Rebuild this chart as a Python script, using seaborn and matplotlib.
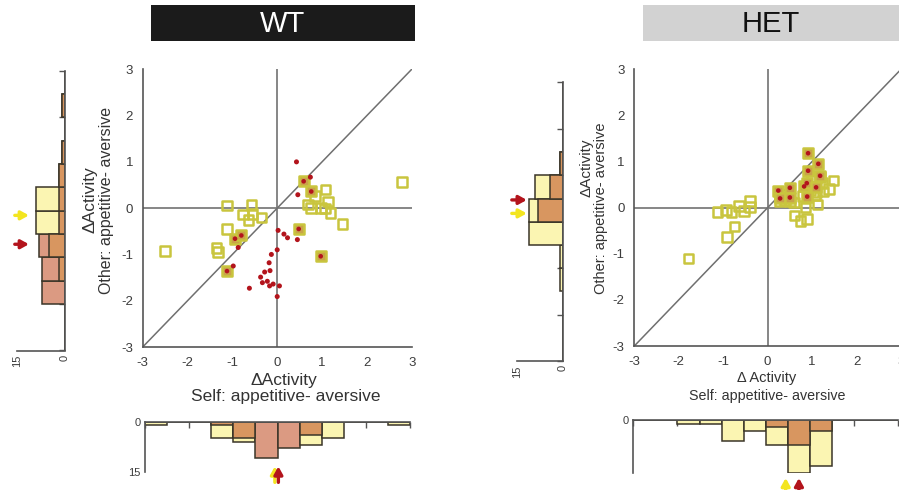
import numpy as np
import pandas as pd
import matplotlib
matplotlib.use("Agg")
import matplotlib.pyplot as plt
from matplotlib.patches import Rectangle
import seaborn as sns

sns.set_style("white")
plt.rcParams['font.family'] = ['Liberation Sans', 'DejaVu Sans']
plt.rcParams['axes.unicode_minus'] = False

# ---------------- data ----------------
# WT scatter
wt_sq_x = [2.79, -2.5, -1.12, -0.57, -0.76, -0.55, -0.64, -0.35, -1.12, -1.35, -1.32,
           0.84, 1.08, 0.69, 0.76, 1.13, 0.98, 1.06, 1.19, 1.46]
wt_sq_y = [0.56, -0.93, 0.06, 0.07, -0.14, -0.13, -0.26, -0.2, -0.45, -0.86, -0.95,
           0.26, 0.40, 0.08, 0.0, 0.14, 0.0, -0.01, -0.1, -0.34]
wt_both_x = [0.59, 0.76, -0.94, -0.80, -1.12, 0.48, 0.97]
wt_both_y = [0.58, 0.36, -0.66, -0.59, -1.36, -0.45, -1.04]
wt_dot_x = [0.43, 0.74, 0.46, 0.02, 0.15, 0.23, 0.45, -0.87, -0.98, 0.0, -0.13, -0.18,
            -0.16, -0.28, -0.37, -0.33, -0.22, -0.17, -0.09, 0.05, -0.62, 0.0]
wt_dot_y = [1.0, 0.67, 0.29, -0.48, -0.56, -0.64, -0.68, -0.85, -1.25, -0.9, -1.0, -1.18,
            -1.35, -1.38, -1.49, -1.61, -1.58, -1.68, -1.64, -1.68, -1.73, -1.91]

# HET scatter
het_sq_x = [-1.78, -1.13, -0.94, -0.81, -0.64, -0.53, -0.40, -0.40, -0.75, -0.92,
            0.60, 0.74, 0.89, 0.85, 1.12, 0.59, 1.48, 1.38, 1.23, 1.10, 0.99, 1.18,
            0.80, 1.25, 0.95, 0.39, 0.28, 0.50, 1.06]
het_sq_y = [-1.10, -0.09, -0.05, -0.09, 0.04, -0.07, 0.15, 0.01, -0.41, -0.64,
            -0.17, -0.29, -0.25, 0.0, 0.07, 0.11, 0.59, 0.40, 0.53, 0.33, 0.67, 0.66,
            0.25, 0.35, 0.38, 0.17, 0.13, 0.13, 0.27]
het_both_x = [0.91, 1.14, 0.91, 1.18, 0.24, 0.50, 0.28, 0.50, 0.82, 0.88, 0.89, 1.09]
het_both_y = [1.18, 0.95, 0.80, 0.69, 0.37, 0.43, 0.20, 0.22, 0.46, 0.53, 0.24, 0.44]

# histograms (bins of 0.5 from -3 to 3)
bin_edges = [-3.0, -2.5, -2.0, -1.5, -1.0, -0.5, 0.0, 0.5, 1.0, 1.5, 2.0, 2.5, 3.0]
wt_self_yellow = [1, 0, 0, 5, 6, 0, 0, 7, 5, 0, 0, 1]
wt_self_red = [0, 0, 0, 1, 5, 11, 8, 4, 0, 0, 0, 0]
wt_other_yellow = [0, 0, 0, 2, 5, 9, 9, 2, 1, 0, 1, 0]
wt_other_red = [0, 0, 7, 7, 8, 2, 2, 2, 1, 0, 1, 0]
het_self_yellow = [0, 0, 1, 1, 6, 3, 7, 15, 13, 0, 0, 0]
het_self_red = [0, 0, 0, 0, 0, 0, 2, 7, 3, 0, 0, 0]
het_other_yellow = [0, 0, 0, 1, 1, 11, 11, 9, 1, 0, 0, 0]
het_other_red = [0, 0, 0, 0, 0, 0, 8, 4, 1, 0, 0, 0]

# means (arrows)
wt_self_mean_yellow, wt_self_mean_red = -0.06, 0.02
wt_other_mean_yellow, wt_other_mean_red = -0.10, -0.72
het_self_mean_yellow, het_self_mean_red = 0.45, 0.75
het_other_mean_yellow, het_other_mean_red = 0.18, 0.47

ticks = [-3, -2, -1, 0, 1, 2, 3]

# ---------------- style ----------------
SQ_EDGE = "#C9C53E"
BOTH_FACE = "#C9A34A"
DOT = "#B3141C"
YEL = "#FBF5B2"
BROWN = "#D89660"
PINK = "#DB9A82"
HEDGE = "#3A3528"
ARROW_Y = "#F3E520"
ARROW_R = "#B3141C"
AXC = "#555555"
TXT = "#333333"

W, H = 899, 490
fig = plt.figure(figsize=(W / 100, H / 100), dpi=100)


def box(x0, x1, ytop, ybot):
    return [x0 / W, 1 - ybot / H, (x1 - x0) / W, (ybot - ytop) / H]


def main_panel(rect, sq_x, sq_y, both_x, both_y, dot_x, dot_y):
    ax = fig.add_axes(rect)
    ax.set_xlim(-3, 3)
    ax.set_ylim(-3, 3)
    ax.axhline(0, color="#7d7d7d", lw=1.3, zorder=1)
    ax.axvline(0, color="#7d7d7d", lw=1.3, zorder=1)
    ax.plot([-3, 3], [-3, 3], color="#6f6f6f", lw=1.1, zorder=1)
    sq = pd.DataFrame({"x": sq_x, "y": sq_y})
    sns.scatterplot(data=sq, x="x", y="y", ax=ax, marker="s", s=48,
                    facecolor="none", edgecolor=SQ_EDGE, linewidth=1.8, zorder=3)
    bo = pd.DataFrame({"x": both_x, "y": both_y})
    sns.scatterplot(data=bo, x="x", y="y", ax=ax, marker="s", s=48,
                    color=BOTH_FACE, edgecolor=SQ_EDGE, linewidth=1.8, zorder=4)
    sns.scatterplot(data=bo, x="x", y="y", ax=ax, marker="o", s=11,
                    color=DOT, edgecolor="none", linewidth=0, zorder=5)
    if dot_x:
        do = pd.DataFrame({"x": dot_x, "y": dot_y})
        sns.scatterplot(data=do, x="x", y="y", ax=ax, marker="o", s=13,
                        color=DOT, edgecolor="none", linewidth=0, zorder=5)
    ax.set_xticks(ticks)
    ax.set_yticks(ticks)
    ax.set_xlabel("")
    ax.set_ylabel("")
    for s in ["top", "right"]:
        ax.spines[s].set_visible(False)
    for s in ["left", "bottom"]:
        ax.spines[s].set_color(AXC)
        ax.spines[s].set_linewidth(1.2)
    ax.tick_params(direction="in", length=4, width=1, colors=AXC,
                   labelcolor="#3c3c3c", labelsize=9.5, pad=7)
    return ax


def stacked_parts(yel, red):
    big = [max(a, b) for a, b in zip(yel, red)]
    small = [min(a, b) for a, b in zip(yel, red)]
    cols = [YEL if a >= b else PINK for a, b in zip(yel, red)]
    return big, small, cols


def side_hist(rect, yel, red):
    ax = fig.add_axes(rect)
    big, small, cols = stacked_parts(yel, red)
    lo = bin_edges[:-1]
    ax.barh(lo, big, height=0.5, align="edge", color=cols, edgecolor=HEDGE, linewidth=1.1)
    ax.barh(lo, small, height=0.5, align="edge", color=BROWN, edgecolor=HEDGE, linewidth=1.1)
    ax.set_xlim(15, 0)
    ax.set_ylim(-3, 3)
    for s in ["top", "left"]:
        ax.spines[s].set_visible(False)
    for s in ["right", "bottom"]:
        ax.spines[s].set_color(AXC)
        ax.spines[s].set_linewidth(1.2)
    ax.yaxis.tick_right()
    ax.set_yticks(ticks)
    ax.set_yticklabels([])
    ax.set_xticks([15, 10, 5, 0])
    ax.set_xticklabels(["15", "", "", "0"], rotation=90)
    ax.tick_params(direction="in", length=4, width=1, colors=AXC,
                   labelcolor="#3c3c3c", labelsize=8, pad=3)
    return ax


def bottom_hist(rect, yel, red, show15=True):
    ax = fig.add_axes(rect)
    big, small, cols = stacked_parts(yel, red)
    lo = bin_edges[:-1]
    ax.bar(lo, big, width=0.5, align="edge", color=cols, edgecolor=HEDGE, linewidth=1.1)
    ax.bar(lo, small, width=0.5, align="edge", color=BROWN, edgecolor=HEDGE, linewidth=1.1)
    ax.set_xlim(-3, 3)
    ax.set_ylim(15, 0)
    for s in ["bottom", "right"]:
        ax.spines[s].set_visible(False)
    for s in ["top", "left"]:
        ax.spines[s].set_color(AXC)
        ax.spines[s].set_linewidth(1.2)
    ax.xaxis.tick_top()
    ax.set_xticks(ticks)
    ax.set_xticklabels([])
    ax.set_yticks([0, 5, 10, 15])
    ax.set_yticklabels(["0", "", "", "15" if show15 else ""])
    ax.tick_params(direction="in", length=4, width=1, colors=AXC,
                   labelcolor="#3c3c3c", labelsize=8, pad=3)
    return ax


def arrow(ax, xy, xytext, color):
    ax.annotate("", xy=xy, xytext=xytext, xycoords="data", textcoords="data",
                annotation_clip=False,
                arrowprops=dict(arrowstyle="-|>,head_length=0.45,head_width=0.25",
                                color=color, lw=2.4, shrinkA=0, shrinkB=0))


# ---------------- WT ----------------
main_panel(box(142.7, 411.7, 69.3, 347), wt_sq_x, wt_sq_y, wt_both_x, wt_both_y, wt_dot_x, wt_dot_y)
axl = side_hist(box(16.7, 65, 70.9, 350.5), wt_other_yellow, wt_other_red)
arrow(axl, (11.2, wt_other_mean_yellow), (15.6, wt_other_mean_yellow), ARROW_Y)
arrow(axl, (11.2, wt_other_mean_red), (15.6, wt_other_mean_red), ARROW_R)
axb = bottom_hist(box(145, 410, 421.7, 471.7), wt_self_yellow, wt_self_red)
arrow(axb, (wt_self_mean_yellow, 13.4), (wt_self_mean_yellow, 18.2), ARROW_Y)
arrow(axb, (wt_self_mean_red, 13.4), (wt_self_mean_red, 18.2), ARROW_R)

fig.text(90 / W, 1 - 200 / H, "\u0394Activity", rotation=90, ha="center", va="center",
         fontsize=12.5, color=TXT)
fig.text(106 / W, 1 - 200 / H, "Other: appetitive- aversive", rotation=90, ha="center",
         va="center", fontsize=11.5, color=TXT)
fig.text(284 / W, 1 - 380 / H, "\u0394Activity", ha="center", va="center",
         fontsize=12.5, color=TXT)
fig.text(286 / W, 1 - 397 / H, "Self: appetitive- aversive", ha="center", va="center",
         fontsize=12.5, color=TXT)

fig.patches.append(Rectangle((151 / W, 1 - 41 / H), (415 - 151) / W, 36 / H,
                             transform=fig.transFigure, facecolor="#1b1b1b",
                             edgecolor="none", zorder=0))
fig.text(283 / W, 1 - 23.5 / H, "WT", ha="center", va="center", fontsize=21,
         color="white")

# ---------------- HET ----------------
main_panel(box(634.3, 901, 69.3, 346), het_sq_x, het_sq_y, het_both_x, het_both_y, [], [])
axl2 = side_hist(box(516.7, 562.7, 82.5, 361), het_other_yellow, het_other_red)
arrow(axl2, (11.7, het_other_mean_red), (16.6, het_other_mean_red), ARROW_R)
arrow(axl2, (11.7, het_other_mean_yellow), (16.6, het_other_mean_yellow), ARROW_Y)
axb2 = bottom_hist(box(633.3, 898.3, 420, 472.7), het_self_yellow, het_self_red, show15=False)
arrow(axb2, (het_self_mean_yellow, 16.5), (het_self_mean_yellow, 20.5), ARROW_Y)
arrow(axb2, (het_self_mean_red, 16.5), (het_self_mean_red, 20.5), ARROW_R)

fig.text(587 / W, 1 - 168 / H, "\u0394Activity", rotation=90, ha="center", va="center",
         fontsize=11, color=TXT)
fig.text(601 / W, 1 - 208 / H, "Other: appetitive- aversive", rotation=90, ha="center",
         va="center", fontsize=10.5, color=TXT)
fig.text(767 / W, 1 - 378 / H, "\u0394 Activity", ha="center", va="center",
         fontsize=10.5, color=TXT)
fig.text(767 / W, 1 - 396 / H, "Self: appetitive- aversive", ha="center", va="center",
         fontsize=10.3, color=TXT)

fig.patches.append(Rectangle((643 / W, 1 - 41 / H), (899 - 643) / W, 36 / H,
                             transform=fig.transFigure, facecolor="#d2d2d2",
                             edgecolor="none", zorder=0))
fig.text(771 / W, 1 - 23.5 / H, "HET", ha="center", va="center", fontsize=21,
         color="#111111")

fig.savefig("out.png", dpi=100, facecolor="white")
